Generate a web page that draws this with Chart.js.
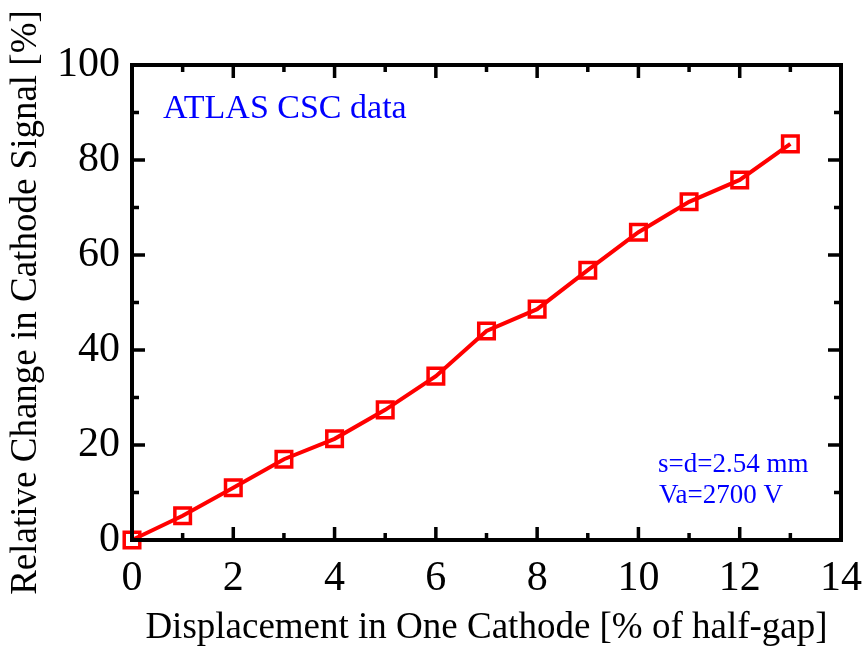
<!DOCTYPE html>
<html>
<head>
<meta charset="utf-8">
<script src="https://cdn.jsdelivr.net/npm/chart.js@4/dist/chart.umd.min.js"></script>
<style>
  html, body { margin: 0; padding: 0; background: #fff; }
  #wrap { width: 868px; height: 650px; }
</style>
</head>
<body>
<div id="wrap"><canvas id="chart" width="868" height="650"></canvas></div>
<script>
// Données
const displacement = [0, 1, 2, 3, 4, 5, 6, 7, 8, 9, 10, 11, 12, 13];
const signalChange = [0, 5.1, 11, 17, 21.3, 27.4, 34.5, 44, 48.6, 56.8, 64.8, 71.2, 75.8, 83.4];
const xTicks = [0, 2, 4, 6, 8, 10, 12, 14];
const yTicks = [0, 20, 40, 60, 80, 100];

const serif = "'Liberation Serif', 'Times New Roman', serif";

// Cadre + graduations vers l'intérieur (sur les quatre côtés)
const framePlugin = {
    id: 'frame',
    afterDraw(chart) {
        const ctx = chart.ctx;
        const a = chart.chartArea;
        const xs = chart.scales.x, ys = chart.scales.y;
        ctx.save();
        ctx.strokeStyle = '#000';
        ctx.lineWidth = 4;
        ctx.lineCap = 'square';
        ctx.strokeRect(a.left, a.top, a.right - a.left, a.bottom - a.top);
        ctx.lineCap = 'butt';
        ctx.lineWidth = 3.5;
        // axe x : majeures tous les 2, mineures tous les 1
        for (let v = 0; v <= 14; v++) {
            const px = xs.getPixelForValue(v);
            const len = v % 2 === 0 ? 13 : 7;
            ctx.beginPath();
            ctx.moveTo(px, a.bottom); ctx.lineTo(px, a.bottom - len);
            ctx.moveTo(px, a.top); ctx.lineTo(px, a.top + len);
            ctx.stroke();
        }
        // axe y : majeures tous les 20, mineures tous les 10
        for (let v = 0; v <= 100; v += 10) {
            const py = ys.getPixelForValue(v);
            const len = v % 20 === 0 ? 13 : 7;
            ctx.beginPath();
            ctx.moveTo(a.left, py); ctx.lineTo(a.left + len, py);
            ctx.moveTo(a.right, py); ctx.lineTo(a.right - len, py);
            ctx.stroke();
        }
        // Annotations
        ctx.fillStyle = '#0000ff';
        ctx.textBaseline = 'alphabetic';
        ctx.textAlign = 'left';
        ctx.font = '34px ' + serif;
        ctx.fillText('ATLAS CSC data', a.left + 31, a.top + 53);
        ctx.font = '27px ' + serif;
        ctx.fillText('s=d=2.54 mm', a.left + 526, a.top + 407);
        ctx.fillText('Va=2700 V', a.left + 527, a.top + 438);
        ctx.restore();
    }
};

new Chart(document.getElementById('chart').getContext('2d'), {
    type: 'line',
    data: {
        datasets: [{
            data: displacement.map((x, i) => ({ x: x, y: signalChange[i] })),
            borderColor: '#ff0000',
            borderWidth: 4,
            pointStyle: 'rect',
            pointRadius: 11,
            pointBorderWidth: 3.5,
            pointBorderColor: '#ff0000',
            pointBackgroundColor: 'rgba(255,255,255,0)',
            tension: 0,
            clip: false
        }]
    },
    options: {
        responsive: false,
        animation: false,
        devicePixelRatio: 1,
        layout: { padding: { top: 65, right: 22, bottom: 0, left: 4 } },
        plugins: { legend: { display: false }, tooltip: { enabled: false } },
        scales: {
            x: {
                type: 'linear',
                min: 0, max: 14,
                afterBuildTicks: s => { s.ticks = xTicks.map(v => ({ value: v })); },
                afterFit: s => { s.height = 110; },
                grid: { display: false },
                border: { display: false },
                ticks: { color: '#000', font: { family: serif, size: 42 }, padding: 6 },
                title: {
                    display: true,
                    text: 'Displacement in One Cathode [% of half-gap]',
                    color: '#000',
                    font: { family: serif, size: 37 },
                    padding: { top: 0, bottom: 0 }
                }
            },
            y: {
                type: 'linear',
                min: 0, max: 100,
                afterBuildTicks: s => { s.ticks = yTicks.map(v => ({ value: v })); },
                afterFit: s => { s.width = 128; },
                grid: { display: false },
                border: { display: false },
                ticks: { color: '#000', font: { family: serif, size: 42 }, padding: 4 },
                title: {
                    display: true,
                    text: 'Relative Change in Cathode Signal [%]',
                    color: '#000',
                    font: { family: serif, size: 37 },
                    padding: { top: 0, bottom: 0 }
                }
            }
        }
    },
    plugins: [framePlugin]
});
</script>
</body>
</html>
